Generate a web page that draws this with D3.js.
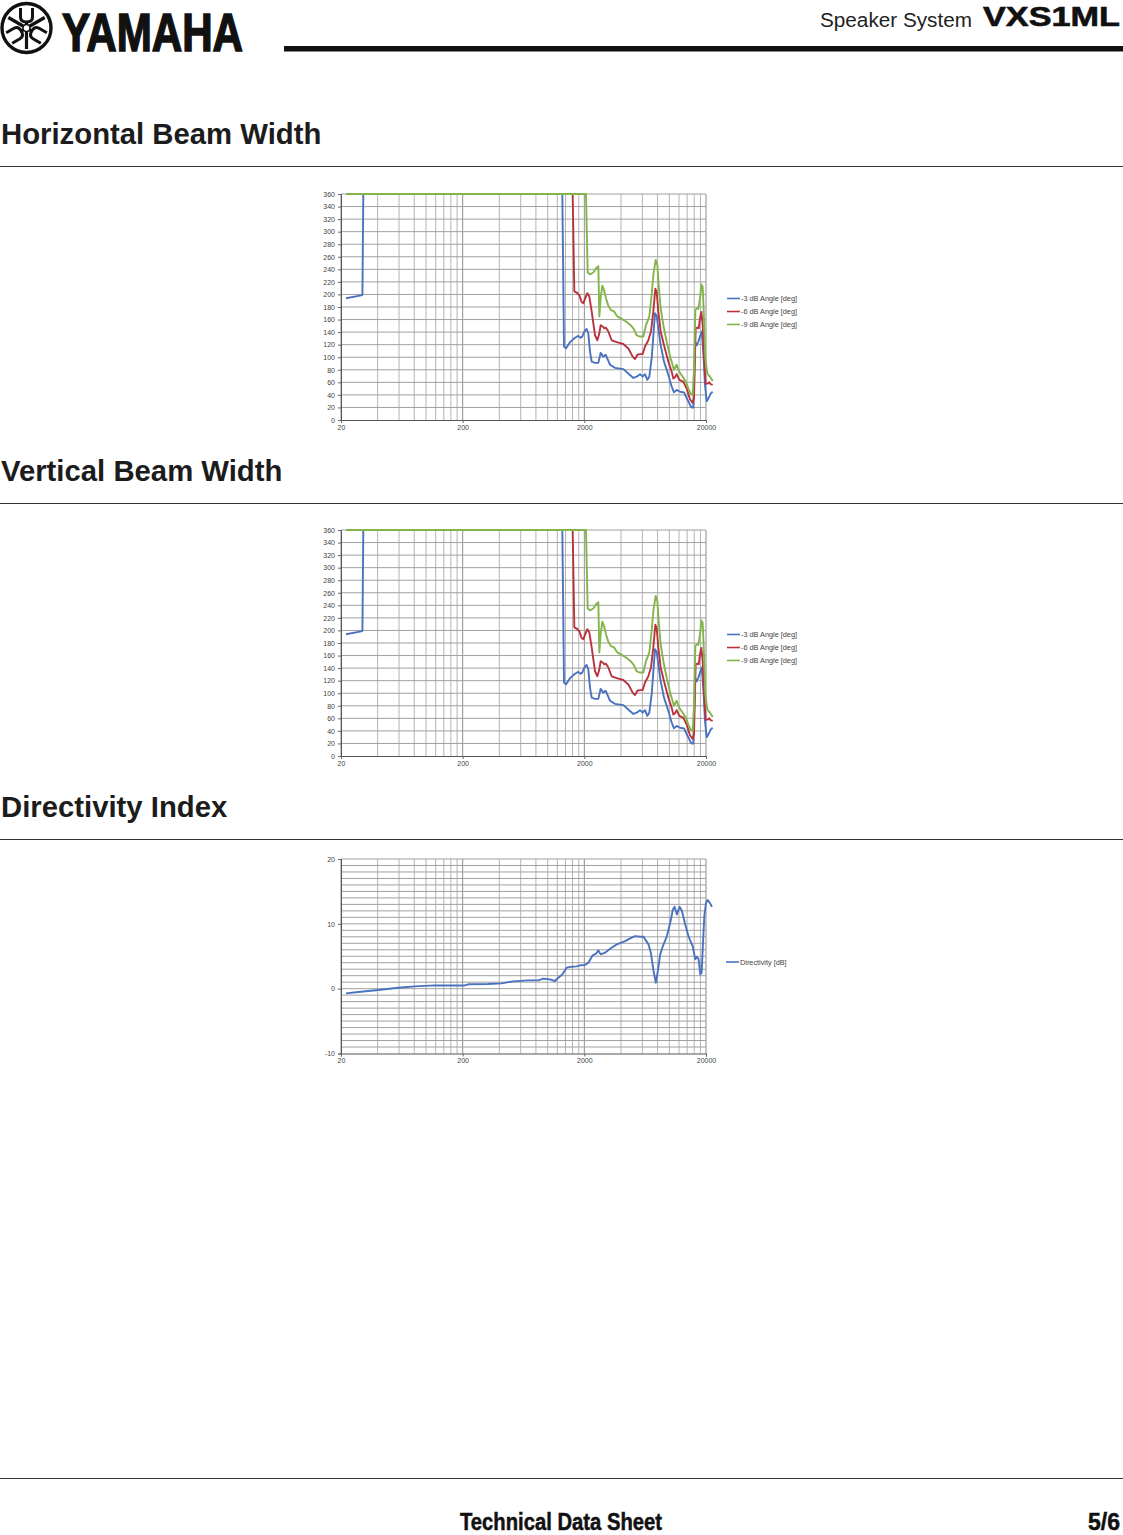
<!DOCTYPE html>
<html><head><meta charset="utf-8">
<script src="https://cdn.jsdelivr.net/npm/d3@7"></script>
<style>
html,body{margin:0;padding:0;background:#fff;}
svg{display:block;}
text{font-family:"Liberation Sans",Arial,Helvetica,sans-serif;}
</style></head><body>
<svg id="page" width="1123" height="1535"></svg>
<script>
// ---------- DATA ----------
const freqTicks = [20, 200, 2000, 20000];
const beamTicks = [0,20,40,60,80,100,120,140,160,180,200,220,240,260,280,300,320,340,360];
const diTicks = [-10, 0, 10, 20];
const beamNames = ["-3 dB Angle [deg]", "-6 dB Angle [deg]", "-9 dB Angle [deg]"];
const diName = "Directivity [dB]";
const seriesColors = ["#4a73bf", "#b9333e", "#84b54a"];

// [frequency Hz, angle deg]
const horiz3dB = [[22,194],[30,199],[30.5,360],[1319,360],[1361,117],[1413,114],[1525,124],[1676,131],[1785,134],[1866,131],[1926,133],[2000,141],[2090,145],[2157,138],[2226,109],[2298,93],[2448,91],[2607,91],[2724,107],[2865,101],[2994,104],[3150,94],[3251,88],[3574,83],[4185,81],[4600,74],[5056,67],[5386,69],[5736,73],[6033,69],[6304,73],[6589,64],[6843,69],[7152,98],[7618,170],[7862,166],[8114,146],[8480,119],[9033,93],[9805,72],[10444,53],[10916,44],[11481,48],[12227,45],[13190,44],[13872,35],[14775,24],[15249,20],[15737,20],[16242,125],[16763,119],[17299,125],[17854,133],[18426,141],[19016,109],[19626,56],[20255,30],[20904,34],[21849,42],[22689,45]];
const horiz6dB = [[22,360],[1604,360],[1655,205],[1730,203],[1819,199],[1902,188],[1962,186],[2025,193],[2117,202],[2198,197],[2298,173],[2448,135],[2558,127],[2657,138],[2724,151],[2829,149],[2920,146],[3013,147],[3150,141],[3355,127],[3689,124],[4185,121],[4600,114],[4993,101],[5218,97],[5454,104],[5736,105],[6033,105],[6304,117],[6715,127],[7062,141],[7382,173],[7666,209],[7862,204],[8114,173],[8480,141],[9033,119],[9805,93],[10444,77],[10779,66],[11124,68],[11481,73],[12074,64],[13024,61],[13872,50],[14775,33],[15539,27],[15938,35],[16449,146],[16976,147],[17407,146],[17854,162],[18307,172],[18777,152],[19258,98],[19876,58],[20641,58],[21303,60],[21849,57],[22689,56]];
const horiz9dB = [[22,360],[2064,360],[2130,235],[2226,232],[2372,235],[2526,243],[2607,245],[2657,165],[2724,194],[2812,214],[2901,207],[3013,194],[3150,182],[3313,175],[3506,173],[3735,165],[4055,161],[4457,156],[4808,151],[5056,146],[5386,135],[5665,133],[6108,133],[6425,151],[6843,165],[7152,199],[7382,231],[7715,255],[7962,247],[8166,215],[8480,178],[8920,151],[9500,125],[10248,98],[10916,80],[11481,88],[12074,77],[12860,69],[13697,61],[14316,50],[14963,42],[15539,40],[15938,80],[16344,175],[16763,178],[17299,177],[17854,194],[18307,216],[18777,212],[19258,162],[19749,98],[20513,74],[21574,69],[22689,62]];
// the vertical chart in the reference shows the same curves as the horizontal one
const vert3dB = horiz3dB;
const vert6dB = horiz6dB;
const vert9dB = horiz9dB;
// [frequency Hz, directivity index dB]
const diData = [[22,-0.72],[27.7,-0.51],[40.5,-0.2],[59,0.15],[81,0.36],[118,0.5],[208,0.5],[222,0.67],[324,0.72],[418,0.82],[520,1.13],[690,1.28],[835,1.28],[919,1.54],[1042,1.44],[1146,1.18],[1221,1.69],[1317,2.2],[1430,3.24],[1572,3.39],[1729,3.44],[1842,3.6],[2025,3.65],[2158,4.0],[2343,5.14],[2496,5.39],[2609,5.9],[2727,5.29],[2960,5.55],[3254,6.16],[3694,6.83],[4327,7.34],[4757,7.76],[5231,8.11],[5752,8.01],[6128,8.01],[6325,7.6],[6738,6.83],[7043,5.55],[7409,2.72],[7744,0.92],[8044,2.72],[8407,5.29],[8844,6.57],[9543,8.11],[10163,10.17],[10691,12.22],[11036,12.63],[11535,11.45],[12135,12.63],[12683,11.97],[13506,9.91],[14392,8.01],[15532,6.57],[16339,4.52],[16863,4.93],[17403,4.52],[17961,2.2],[18422,2.47],[18895,7.09],[19379,11.2],[20000,13.25],[20640,13.66],[21440,13.25],[22407,12.63]];

// ---------- PAGE ----------
const svg = d3.select("#page");
const W = 1123;

// logo emblem
const logo = svg.append("g").attr("transform", "translate(26.5,28)");
logo.append("circle").attr("r", 24.5).attr("fill", "none").attr("stroke", "#111").attr("stroke-width", 3.4);
[0, 120, 240].forEach(a => {
  const f = logo.append("g").attr("transform", `rotate(${a})`);
  f.append("path").attr("d", "M0,21 L0,-7").attr("stroke", "#111").attr("stroke-width", 3.2).attr("fill", "none");
  f.append("path").attr("d", "M-6,-20 L-6,-11 Q-6,-6 0,-6 Q6,-6 6,-11 L6,-20")
    .attr("stroke", "#111").attr("stroke-width", 3).attr("fill", "none");
});
logo.append("circle").attr("r", 3.5).attr("fill", "#fff").attr("stroke", "#111").attr("stroke-width", 1.5);

svg.append("text").attr("x", 62).attr("y", 50.5).attr("font-size", 54).attr("font-weight", "bold")
  .attr("fill", "#111").attr("stroke", "#111").attr("stroke-width", 1.6)
  .attr("textLength", 181).attr("lengthAdjust", "spacingAndGlyphs").text("YAMAHA");

svg.append("text").attr("x", 820).attr("y", 27).attr("font-size", 20.5).attr("fill", "#222")
  .attr("textLength", 152).attr("lengthAdjust", "spacingAndGlyphs").text("Speaker System");
svg.append("text").attr("x", 983).attr("y", 25.5).attr("font-size", 27.5).attr("font-weight", "bold").attr("fill", "#111")
  .attr("stroke", "#111").attr("stroke-width", 0.6)
  .attr("textLength", 137).attr("lengthAdjust", "spacingAndGlyphs").text("VXS1ML");
svg.append("rect").attr("x", 284).attr("y", 46).attr("width", W - 284).attr("height", 5.5).attr("fill", "#111");

// section titles + separators
const sections = [
  {title: "Horizontal Beam Width", y: 144, line: 166.5},
  {title: "Vertical Beam Width", y: 481, line: 503.5},
  {title: "Directivity Index", y: 817, line: 839.5}
];
sections.forEach(s => {
  svg.append("text").attr("x", 1).attr("y", s.y).attr("font-size", 29.3).attr("font-weight", "bold")
    .attr("fill", "#1c1c1c").text(s.title);
  svg.append("line").attr("x1", 0).attr("x2", W).attr("y1", s.line).attr("y2", s.line)
    .attr("stroke", "#333").attr("stroke-width", 1);
});

// footer
svg.append("line").attr("x1", 0).attr("x2", W).attr("y1", 1478.5).attr("y2", 1478.5).attr("stroke", "#333").attr("stroke-width", 1);
svg.append("text").attr("x", 460).attr("y", 1530).attr("font-size", 23.5).attr("font-weight", "bold").attr("fill", "#111")
  .attr("stroke", "#111").attr("stroke-width", 0.5)
  .attr("textLength", 202).attr("lengthAdjust", "spacingAndGlyphs").text("Technical Data Sheet");
svg.append("text").attr("x", 1088).attr("y", 1530).attr("font-size", 23.5).attr("font-weight", "bold").attr("fill", "#111")
  .attr("stroke", "#111").attr("stroke-width", 0.5)
  .attr("textLength", 32).attr("lengthAdjust", "spacingAndGlyphs").text("5/6");

// ---------- CHARTS ----------
function drawChart(o) {
  const x = d3.scaleLog().domain([20, 20000]).range([341, 706]);
  const y = d3.scaleLinear().domain(o.yDomain).range([o.yBottom, o.yTop]);
  const g = svg.append("g");

  // grid
  const vlines = [];
  freqTicks.slice(0, 3).forEach(d => { for (let k = 1; k < 10; k++) vlines.push(d * k); });
  vlines.push(20000);
  g.append("g").selectAll("line").data(vlines).join("line")
    .attr("x1", d => x(d)).attr("x2", d => x(d)).attr("y1", o.yTop).attr("y2", o.yBottom)
    .attr("stroke", d => freqTicks.includes(d) ? "#8e8e8e" : "#b4b4b4").attr("stroke-width", 1);
  g.append("g").selectAll("line").data(o.gridY).join("line")
    .attr("x1", 341).attr("x2", 706).attr("y1", d => y(d)).attr("y2", d => y(d))
    .attr("stroke", "#a0a0a0").attr("stroke-width", 1);

  // axes
  const ya = g.append("g").attr("transform", "translate(341,0)")
    .call(d3.axisLeft(y).tickValues(o.yTicks).tickSize(3).tickPadding(3).tickFormat(d => String(d)));
  const xa = g.append("g").attr("transform", `translate(0,${o.yBottom})`)
    .call(d3.axisBottom(x).tickValues(freqTicks).tickSize(3).tickPadding(2).tickFormat(d => String(d)));
  [ya, xa].forEach(a => {
    a.select(".domain").attr("stroke", "#555");
    a.selectAll(".tick line").attr("stroke", "#666");
    a.selectAll("text").attr("font-size", 7).attr("fill", "#444")
      .attr("font-family", '"Liberation Sans",Arial,sans-serif');
  });

  // series
  const line = d3.line().x(d => x(d[0])).y(d => y(d[1]));
  o.series.forEach((s, i) => {
    g.append("path").datum(s).attr("d", line).attr("fill", "none")
      .attr("stroke", o.colors[i]).attr("stroke-width", 1.9).attr("stroke-linejoin", "round");
  });

  // legend
  o.names.forEach((n, i) => {
    const ly = o.legendY + i * 13;
    g.append("line").attr("x1", o.legendX).attr("x2", o.legendX + 13).attr("y1", ly).attr("y2", ly)
      .attr("stroke", o.colors[i]).attr("stroke-width", 1.6);
    g.append("text").attr("x", o.legendX + 14).attr("y", ly).attr("dy", "0.35em")
      .attr("font-size", 7.3).attr("fill", "#444").text(n);
  });
}

drawChart({yDomain: [0, 360], yBottom: 420, yTop: 194, gridY: beamTicks.slice(1), yTicks: beamTicks,
  series: [horiz3dB, horiz6dB, horiz9dB], colors: seriesColors, names: beamNames, legendX: 727, legendY: 298.5});
drawChart({yDomain: [0, 360], yBottom: 756, yTop: 530, gridY: beamTicks.slice(1), yTicks: beamTicks,
  series: [vert3dB, vert6dB, vert9dB], colors: seriesColors, names: beamNames, legendX: 727, legendY: 634.5});
const diGrid = [];
for (let v = -9; v <= 20; v++) diGrid.push(v);
drawChart({yDomain: [-10, 20], yBottom: 1053.5, yTop: 859, gridY: diGrid, yTicks: diTicks,
  series: [diData], colors: [seriesColors[0]], names: [diName], legendX: 726, legendY: 962});
</script>
</body></html>
